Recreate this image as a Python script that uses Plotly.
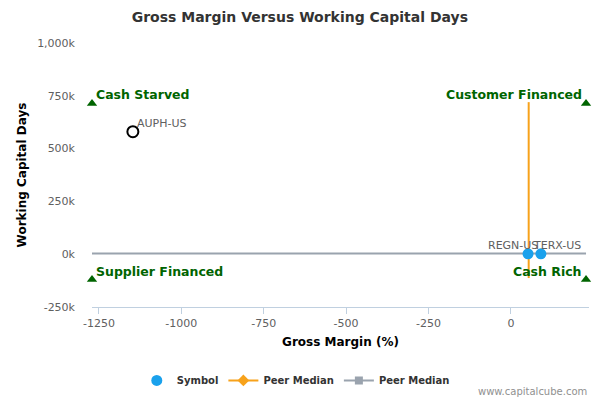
import plotly.graph_objects as go

# Company points: gross margin (%) vs working capital days
symbols = ['AUPH-US', 'REGN-US', 'TERX-US']
gross_margin = [-1147, 52, 91]
wc_days = [580000, 2000, 2000]

# Peer medians
peer_gm = 54
peer_wc = 3000
peer_gm_span = [-113000, 720000]   # vertical median line extent (y)
peer_wc_span = [-1271, 228]        # horizontal median line extent (x)

# Quadrant markers
quad_names = ['Cash Starved', 'Customer Financed', 'Supplier Financed', 'Cash Rich']
quad_x = [-1271, 228, -1271, 228]
quad_y = [714000, 714000, -120000, -120000]

x_ticks = [-1250, -1000, -750, -500, -250, 0]
y_ticks = [-250000, 0, 250000, 500000, 750000, 1000000]
y_tick_text = ['-250k', '0k', '250k', '500k', '750k', '1,000k']

blue = '#1aa1ec'
orange = '#f7a21b'
gray = '#9aa3ae'
green = '#006400'

fig = go.Figure()

# peer median lines (drawn)
fig.add_trace(go.Scatter(x=peer_wc_span, y=[peer_wc, peer_wc], mode='lines',
                         line=dict(color=gray, width=2), showlegend=False, hoverinfo='skip'))
fig.add_trace(go.Scatter(x=[peer_gm, peer_gm], y=peer_gm_span, mode='lines',
                         line=dict(color=orange, width=2), showlegend=False, hoverinfo='skip'))

# quadrant triangles
fig.add_trace(go.Scatter(x=quad_x, y=quad_y, mode='markers', cliponaxis=False,
                         marker=dict(symbol='triangle-up', size=9, color=green),
                         showlegend=False, hoverinfo='skip'))

# points
fig.add_trace(go.Scatter(x=gross_margin[1:], y=wc_days[1:], mode='markers',
                         marker=dict(size=11, color=blue), name='Symbol'))
fig.add_trace(go.Scatter(x=gross_margin[:1], y=wc_days[:1], mode='markers',
                         marker=dict(size=11, color='white', line=dict(color='black', width=2)),
                         showlegend=False))

# legend entries for medians
fig.add_trace(go.Scatter(x=[None], y=[None], mode='lines+markers', name='Peer Median',
                         line=dict(color=orange, width=2),
                         marker=dict(symbol='diamond', size=9, color=orange)))
fig.add_trace(go.Scatter(x=[None], y=[None], mode='lines+markers', name='Peer Median',
                         line=dict(color=gray, width=2),
                         marker=dict(symbol='square', size=8, color=gray)))

annotations = []
label_shift = {'AUPH-US': (2, 'left'), 'REGN-US': (12, 'right'), 'TERX-US': (-10, 'left')}
for s, gx, gy in zip(symbols, gross_margin, wc_days):
    sh, anc = label_shift[s]
    annotations.append(dict(x=gx, y=gy, text=s, showarrow=False, xanchor=anc, yanchor='bottom',
                            xshift=sh, yshift=0, font=dict(size=11, color='#606060')))

for name, qx, qy in zip(quad_names, quad_x, quad_y):
    left = qx < 0
    annotations.append(dict(x=qx, y=qy, text='<b>' + name + '</b>', showarrow=False,
                            xanchor='left' if left else 'right', yanchor='bottom',
                            xshift=2 if left else -2, yshift=-1,
                            font=dict(size=12.5, color=green)))

annotations.append(dict(x=1, y=0, xref='paper', yref='paper', xanchor='right', yanchor='top',
                        text='www.capitalcube.com', showarrow=False, yshift=-77, xshift=0,
                        font=dict(size=10, color='#909090')))

# page body adds an 8px offset, so the figure is 592x392
fig.update_layout(
    width=592, height=392,
    margin=dict(l=84, r=11, t=35, b=93),
    paper_bgcolor='white', plot_bgcolor='white',
    font=dict(family='DejaVu Sans', size=11, color='#606060'),
    title=dict(text='<b>Gross Margin Versus Working Capital Days</b>', x=0.493, xref='container',
               xanchor='center', y=0.99, yanchor='top', font=dict(size=14, color='#333333')),
    xaxis=dict(range=[-1271, 237], tickvals=x_ticks, ticktext=[str(v) for v in x_ticks],
               showgrid=False, zeroline=False, showline=True, linecolor='#c0d0e0',
               ticks='outside', ticklen=6, tickcolor='#c0d0e0', automargin=False,
               title=dict(text='<b>Gross Margin (%)</b>', font=dict(size=12, color='#000000'),
                          standoff=8)),
    yaxis=dict(range=[-250000, 1000000], tickvals=y_ticks, ticktext=y_tick_text,
               showgrid=False, zeroline=False, showline=False, ticks='',
               ticklabelstandoff=16, automargin=False,
               title=dict(text='<b>Working Capital Days</b>', font=dict(size=12, color='#000000'),
                          standoff=7)),
    legend=dict(orientation='h', x=0.41, xanchor='center', y=0.05, yref='container',
                yanchor='middle', itemwidth=30,
                font=dict(size=10, color='#333333', weight='bold')),
    annotations=annotations,
    showlegend=True,
)

fig.write_html('out.html')
